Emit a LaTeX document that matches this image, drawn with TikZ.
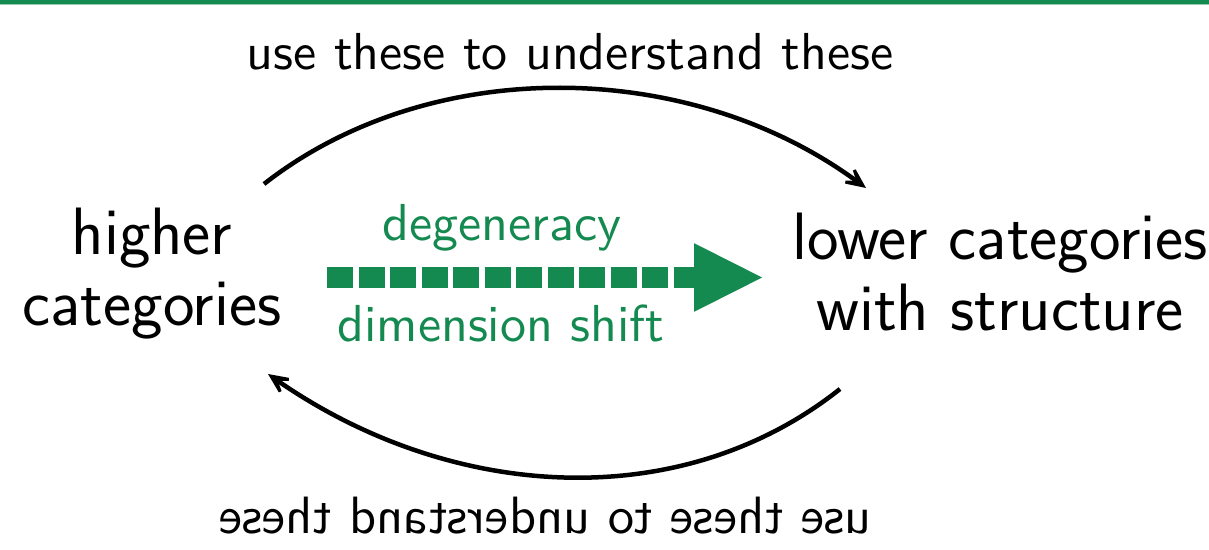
\documentclass[tikz,border=0pt]{standalone}
\usepackage{fontspec}
\usetikzlibrary{arrows.meta}
\newfontfamily\labelsans{lmsans10-regular.otf}
\definecolor{leafgreen}{RGB}{20,138,80}
\begin{document}
\begin{tikzpicture}[x=1pt,y=-1pt,
  big/.style={font=\sffamily\fontsize{67}{71}\selectfont, inner sep=0pt, align=center},
  small/.style={font=\labelsans\fontsize{52}{60}\selectfont, inner sep=0pt},
  curved/.style={line width=4.5pt, -{Stealth[length=34pt,width=31pt,inset=22pt]}},
  shiftarrow/.style={draw=leafgreen, line width=21.6pt, dash pattern=on 26pt off 5.5pt,
    -{Triangle[length=70pt,width=63pt,fill=leafgreen]}}
]
\useasboundingbox (0,0) rectangle (1209,549);
\fill[white] (0,0) rectangle (1209,549);
% header rule
\fill[leafgreen] (0,0) rectangle (1209,4);
\fill[leafgreen!45] (0,4) rectangle (1209,5);

% the two sides
\node[big] (hi) at (152,274) {higher\\categories};
\node[big] (lo) at (1000,272) {lower categories\\with structure};

% labels of the round trip
\node[small, anchor=base] (top) at (570,69) {use these to understand these};
\node[small, anchor=base, xscale=-1, font=\labelsans\fontsize{52.5}{60}\selectfont]
  (bot) at (545,533) {use these to understand these};

% labels of the shift arrow
\node[small, text=leafgreen, anchor=base] (deg) at (502,240) {degeneracy};
\node[small, text=leafgreen, anchor=base] (dim) at (501,341) {dimension shift};

% curved arrows
\coordinate (ts) at (264,184);
\coordinate (te) at (866,188);
\draw[curved] (ts) .. controls (430,54) and (690,58) .. (te);
\coordinate (bs) at (840,389);
\coordinate (be) at (268,374);
\draw[curved] (bs) .. controls (680,516) and (450,501) .. (be);

% dashed shift arrow
\coordinate (gs) at (327,277.5);
\coordinate (ge) at (764,277.5);
\draw[shiftarrow] (gs) -- (ge);
\end{tikzpicture}
\end{document}
